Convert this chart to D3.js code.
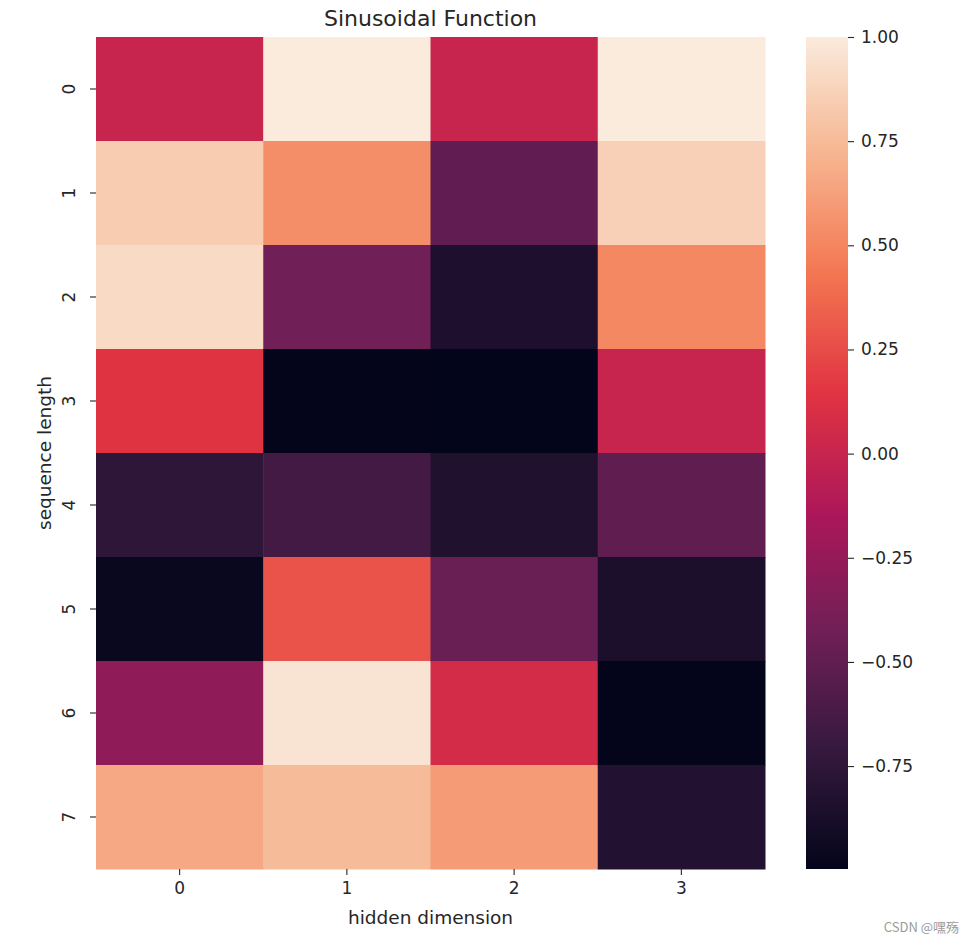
<!DOCTYPE html>
<html>
<head>
<meta charset="utf-8">
<script src="https://cdn.jsdelivr.net/npm/d3@7"></script>
<style>
  html, body { margin: 0; padding: 0; background: #fff; }
  svg { display: block; font-family: "DejaVu Sans", sans-serif; }
</style>
</head>
<body>
<svg id="chart" width="975" height="943"></svg>
<script>
// ---- data ----
const rowLabels = ["0", "1", "2", "3", "4", "5", "6", "7"];
const colLabels = ["0", "1", "2", "3"];
const dim0 = [0.00, 0.84, 0.91, 0.14, -0.76, -0.96, -0.28, 0.66];
const dim1 = [1.00, 0.54, -0.42, -0.99, -0.65, 0.28, 0.96, 0.75];
const dim2 = [0.00, -0.50, -0.85, -0.997, -0.83, -0.46, 0.07, 0.60];
const dim3 = [1.00, 0.86, 0.51, 0.00, -0.51, -0.86, -0.99, -0.82];
const colorbarTicks = [-0.75, -0.5, -0.25, 0, 0.25, 0.5, 0.75, 1.0];
const titleText = "Sinusoidal Function";
const xTitle = "hidden dimension";
const yTitle = "sequence length";

// rocket colormap anchor colours
const rocketStops = ["#03051a", "#35193e", "#701f57", "#ad1759", "#e13342", "#f37651", "#f6b48f", "#faebdd"];

const columns = [dim0, dim1, dim2, dim3];
const cells = [];
columns.forEach((col, c) => col.forEach((v, r) => cells.push({ r: rowLabels[r], c: colLabels[c], v })));

const vmin = d3.min(cells, d => d.v);
const vmax = d3.max(cells, d => d.v);

const rocket = d3.scaleLinear()
  .domain(rocketStops.map((_, i) => i / (rocketStops.length - 1)))
  .range(rocketStops)
  .interpolate(d3.interpolateRgb)
  .clamp(true);
const norm = d3.scaleLinear().domain([vmin, vmax]).range([0, 1]);
const color = v => rocket(norm(v));

// ---- layout ----
const svg = d3.select("#chart");
const pLeft = 96, pRight = 765, pTop = 37, pBottom = 869;
const cbLeft = 806, cbRight = 848;

const x = d3.scaleBand().domain(colLabels).range([pLeft, pRight]);
const y = d3.scaleBand().domain(rowLabels).range([pTop, pBottom]);

svg.append("g").selectAll("rect").data(cells).join("rect")
  .attr("x", d => x(d.c))
  .attr("y", d => y(d.r))
  .attr("width", x.bandwidth() + 0.5)
  .attr("height", y.bandwidth() + 0.5)
  .attr("fill", d => color(d.v));

const tickFont = "17px";
const tickColor = "#262626";

// x axis
const xAxis = svg.append("g").attr("transform", `translate(0,${pBottom})`)
  .call(d3.axisBottom(x).tickSize(6).tickPadding(7));
xAxis.select(".domain").remove();
xAxis.selectAll("line").attr("stroke", tickColor).attr("stroke-width", 1.1);
xAxis.selectAll("text").attr("font-size", tickFont).attr("fill", tickColor)
  .attr("font-family", "DejaVu Sans");

// y axis
const yAxis = svg.append("g").attr("transform", `translate(${pLeft},0)`)
  .call(d3.axisLeft(y).tickSize(6).tickPadding(0));
yAxis.select(".domain").remove();
yAxis.selectAll("line").attr("stroke", tickColor).attr("stroke-width", 1.1);
yAxis.selectAll("text")
  .attr("font-size", tickFont).attr("fill", tickColor).attr("font-family", "DejaVu Sans")
  .attr("x", null).attr("dy", null)
  .attr("text-anchor", "middle")
  .attr("dominant-baseline", "central")
  .attr("transform", "translate(-27,0) rotate(-90)");

// title and axis labels
svg.append("text").attr("x", (pLeft + pRight) / 2).attr("y", 26)
  .attr("text-anchor", "middle").attr("font-size", "22px").attr("fill", tickColor)
  .text(titleText);
svg.append("text").attr("x", (pLeft + pRight) / 2).attr("y", 924)
  .attr("text-anchor", "middle").attr("font-size", "18.5px").attr("fill", tickColor)
  .text(xTitle);
svg.append("text")
  .attr("transform", `translate(51,${(pTop + pBottom) / 2}) rotate(-90)`)
  .attr("text-anchor", "middle").attr("font-size", "18.5px").attr("fill", tickColor)
  .text(yTitle);

// colorbar
const defs = svg.append("defs");
const grad = defs.append("linearGradient").attr("id", "cbgrad")
  .attr("x1", 0).attr("y1", 1).attr("x2", 0).attr("y2", 0);
d3.range(0, 1.0001, 0.01).forEach(t => {
  grad.append("stop").attr("offset", t).attr("stop-color", rocket(t));
});
svg.append("rect").attr("x", cbLeft).attr("y", pTop)
  .attr("width", cbRight - cbLeft).attr("height", pBottom - pTop)
  .attr("fill", "url(#cbgrad)");

const cbScale = d3.scaleLinear().domain([vmin, vmax]).range([pBottom, pTop]);
const fmt = v => d3.format(".2f")(v).replace("-", "\u2212");
const cbAxis = svg.append("g").attr("transform", `translate(${cbRight},0)`)
  .call(d3.axisRight(cbScale).tickValues(colorbarTicks).tickFormat(fmt).tickSize(6).tickPadding(7));
cbAxis.select(".domain").remove();
cbAxis.selectAll("line").attr("stroke", tickColor).attr("stroke-width", 1.1);
cbAxis.selectAll("text").attr("font-size", tickFont).attr("fill", tickColor)
  .attr("font-family", "DejaVu Sans");

// watermark
svg.append("text").attr("x", 959).attr("y", 932)
  .attr("text-anchor", "end").attr("font-size", "13px").attr("fill", "#9a9a9a")
  .attr("font-family", "'Noto Sans CJK SC', 'Noto Sans', sans-serif")
  .text("CSDN @嘿殇");
</script>
</body>
</html>
